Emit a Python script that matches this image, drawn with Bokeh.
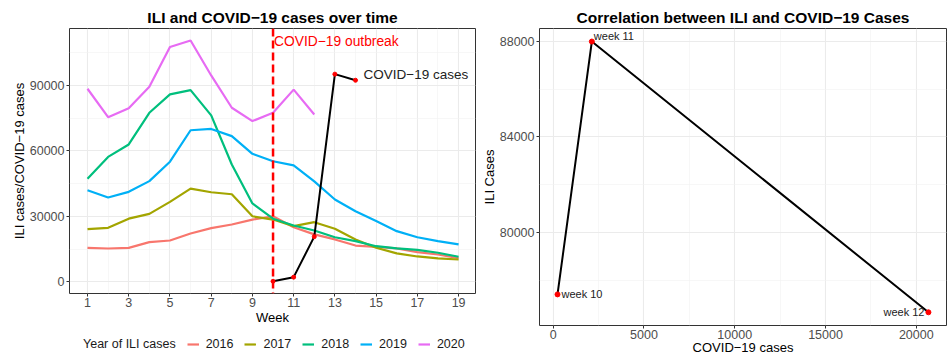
from bokeh.plotting import figure
from bokeh.models import FixedTicker, Span, Label, Legend, LegendItem, BasicTickFormatter
from bokeh.layouts import row, column
from bokeh.embed import file_html
from bokeh.resources import INLINE

# ---------------- data ----------------
weeks = list(range(1, 20))
ili_2016 = [15550, 15250, 15550, 18150, 18900, 22100, 24550, 26250, 28500, 30000,
            25000, 21700, 19400, 16600, 16000, 15300, 13600, 12500, 10800]
ili_2017 = [24100, 24700, 28900, 31100, 36600, 42700, 41000, 40100, 30000, 28500,
            25500, 27300, 24300, 19400, 15600, 13000, 11600, 10700, 10200]
ili_2018 = [47200, 57200, 62900, 77400, 85800, 87800, 76200, 53700, 35900, 28900,
            25800, 23500, 20400, 18600, 16300, 15300, 14650, 13300, 11450]
ili_2019 = [41950, 38600, 41200, 46100, 55000, 69400, 70000, 66700, 58600, 55200,
            53300, 46000, 37700, 32300, 27800, 23200, 20400, 18600, 17100]
weeks_2020 = list(range(1, 13))
ili_2020 = [88400, 75400, 79500, 89300, 107500, 110500, 94500, 79700, 73600, 77400,
            88000, 76650]
years = ["2016", "2017", "2018", "2019", "2020"]
year_colors = ["#F8766D", "#A3A500", "#00BF7D", "#00B0F6", "#E76BF3"]
legend_title = "Year of ILI cases"

covid_weeks = [10, 11, 12, 13, 14]
covid_cases = [237, 2128, 20670, 95100, 92300]
outbreak_week = 10

corr_covid = [237, 2128, 20670]
corr_ili = [77400, 88000, 76650]
corr_labels = ["week 10", "week 11", "week 12"]

x_ticks_left = [1, 3, 5, 7, 9, 11, 13, 15, 17, 19]
x_minor_left = [2, 4, 6, 8, 10, 12, 14, 16, 18]
y_ticks_left = [0, 30000, 60000, 90000]
y_minor_left = [15000, 45000, 75000, 105000]
x_ticks_right = [0, 5000, 10000, 15000, 20000]
x_minor_right = [2500, 7500, 12500, 17500]
y_ticks_right = [80000, 84000, 88000]
y_minor_right = [78000, 82000, 86000]

FONT = "Liberation Sans"
X1 = (0.127, 19.82)
Y1 = (-5360, 116000)
X2 = (-755, 21665)
Y2 = (76096, 88546)


def style(p, xt, xm, yt, ym):
    p.outline_line_color = "#333333"
    p.outline_line_width = 1
    p.title.text_font = FONT
    p.title.text_font_size = "15.5px"
    p.title.text_font_style = "bold"
    p.title.text_color = "black"
    p.title.align = "center"
    p.title.standoff = 5
    p.xaxis.ticker = FixedTicker(ticks=xt, minor_ticks=xm)
    p.yaxis.ticker = FixedTicker(ticks=yt, minor_ticks=ym)
    for ax in list(p.xaxis) + list(p.yaxis):
        ax.axis_line_color = None
        ax.major_tick_line_color = "#333333"
        ax.major_tick_out = 3
        ax.major_tick_in = 0
        ax.minor_tick_line_color = None
        ax.major_label_text_font = FONT
        ax.major_label_text_font_size = "12.5px"
        ax.major_label_text_color = "#4D4D4D"
        ax.axis_label_text_font = FONT
        ax.axis_label_text_font_size = "13px"
        ax.axis_label_text_font_style = "normal"
        ax.axis_label_text_color = "black"
        ax.major_label_standoff = 1
        ax.axis_label_standoff = 0
        ax.formatter = BasicTickFormatter(use_scientific=False)
    for ax in p.xaxis:
        ax.major_label_standoff = 0
    for g in list(p.xgrid) + list(p.ygrid):
        g.grid_line_color = "#EBEBEB"
        g.grid_line_width = 1.1
        g.minor_grid_line_color = "#F2F2F2"
        g.minor_grid_line_width = 0.6


# ---------------- left chart ----------------
p1 = figure(frame_width=406, frame_height=265,
            x_range=X1, y_range=Y1,
            title="ILI and COVID\u221219 cases over time",
            x_axis_label="Week", y_axis_label="ILI cases/COVID\u221219 cases",
            output_backend="svg", toolbar_location=None,
            min_border_left=69, min_border_right=3, min_border_top=28, min_border_bottom=36)
style(p1, x_ticks_left, x_minor_left, y_ticks_left, y_minor_left)

series = [ili_2016, ili_2017, ili_2018, ili_2019, ili_2020]
for yr, col, vals in zip(years, year_colors, series):
    xs = weeks if len(vals) == len(weeks) else weeks_2020
    p1.line(xs, vals, line_color=col, line_width=2.2)

p1.line(covid_weeks, covid_cases, line_color="black", line_width=2)
p1.scatter(covid_weeks, covid_cases, color="red", size=4)

p1.add_layout(Span(location=outbreak_week, dimension="height", line_color="red",
                   line_dash="8 4", line_width=2.5))
p1.add_layout(Label(x=outbreak_week, y=110000, text="COVID\u221219 outbreak",
                    text_color="red", text_font=FONT, text_font_size="13.8px",
                    text_baseline="middle", x_offset=1))
p1.add_layout(Label(x=covid_weeks[-1], y=covid_cases[-1], text="COVID\u221219 cases",
                    text_color="#222222", text_font=FONT, text_font_size="13.5px",
                    text_baseline="middle", x_offset=8, y_offset=6))

# ---------------- legend strip under the left chart ----------------
# the strip's ranges keep the series out of view; only the legend keys show
leg_fig = figure(width=478, height=25, x_range=(0, 1), y_range=(0, 1),
                 x_axis_location=None, y_axis_location=None,
                 output_backend="svg", toolbar_location=None, min_border=0,
                 outline_line_color=None)
leg_fig.grid.visible = False
title_r = leg_fig.line(weeks, ili_2016, line_alpha=0)
items = [LegendItem(label=legend_title, renderers=[title_r])]
for yr, col, vals in zip(years, year_colors, series):
    xs = weeks if len(vals) == len(weeks) else weeks_2020
    r = leg_fig.line(xs, vals, line_color=col, line_width=2.2)
    items.append(LegendItem(label=yr, renderers=[r]))

legend = Legend(items=items, orientation="horizontal", location=(-5, 3))
legend.border_line_color = None
legend.background_fill_alpha = 0
legend.label_text_font = FONT
legend.label_text_font_size = "12.5px"
legend.label_text_color = "#1A1A1A"
legend.glyph_width = 12
legend.glyph_height = 10
legend.label_standoff = 7
legend.spacing = 11
legend.padding = 0
legend.margin = 0
leg_fig.add_layout(legend)

# ---------------- right chart ----------------
p2 = figure(frame_width=407, frame_height=297,
            x_range=X2, y_range=Y2,
            title="Correlation between ILI and COVID\u221219 Cases",
            x_axis_label="COVID\u221219 cases", y_axis_label="ILI Cases",
            output_backend="svg", toolbar_location=None,
            min_border_left=61, min_border_right=4, min_border_top=28, min_border_bottom=24)
style(p2, x_ticks_right, x_minor_right, y_ticks_right, y_minor_right)
p2.xaxis.axis_label_standoff = -2

p2.line(corr_covid, corr_ili, line_color="black", line_width=2)
p2.scatter(corr_covid, corr_ili, color="red", size=5)

label_styles = [dict(text_align="left", text_baseline="middle", x_offset=4, y_offset=0),
                dict(text_align="left", text_baseline="bottom", x_offset=2, y_offset=0),
                dict(text_align="right", text_baseline="middle", x_offset=-4, y_offset=0)]
for cx, cy, lab, st in zip(corr_covid, corr_ili, corr_labels, label_styles):
    p2.add_layout(Label(x=cx, y=cy, text=lab, text_font=FONT, text_font_size="11px",
                        text_color="#222222", **st))

layout = row(column(p1, leg_fig), p2)
open("out.html", "w").write(file_html(layout, INLINE))
